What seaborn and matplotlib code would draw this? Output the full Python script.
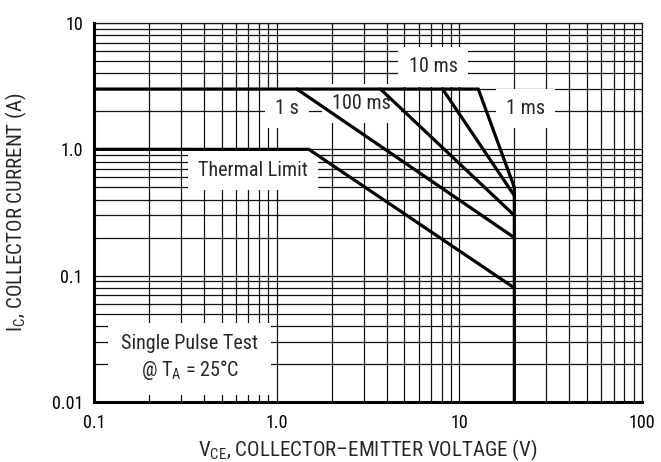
import numpy as np
import pandas as pd
import matplotlib
matplotlib.use("Agg")
import matplotlib.pyplot as plt
from matplotlib import font_manager as fm
from matplotlib.ticker import FixedLocator, NullFormatter, FixedFormatter, LogLocator
import seaborn as sns

# ---- data ----
v_1ms = [0.1, 12.7, 20.0, 20.0]
i_1ms = [3.0, 3.0, 0.50, 0.01]
v_10ms = [8.1, 20.0]
i_10ms = [3.0, 0.43]
v_100ms = [3.7, 20.0]
i_100ms = [3.0, 0.30]
v_1s = [1.29, 20.0]
i_1s = [3.0, 0.20]
v_thermal = [0.1, 1.5, 20.0]
i_thermal = [1.0, 1.0, 0.08]

x_ticks = [0.1, 1.0, 10, 100]
x_ticklabels = ["0.1", "1.0", "10", "100"]
y_ticks = [0.01, 0.1, 1.0, 10]
y_ticklabels = ["0.01", "0.1", "1.0", "10"]

labels = ["10 ms", "1 ms", "100 ms", "1 s", "Thermal Limit"]
label_v = [7.18, 23.1, 2.9, 1.135, 0.741]
label_i = [4.49, 2.12, 2.29, 2.12, 0.686]

frames = []
for name, v, i in [("1 ms", v_1ms, i_1ms), ("10 ms", v_10ms, i_10ms),
                   ("100 ms", v_100ms, i_100ms), ("1 s", v_1s, i_1s),
                   ("thermal", v_thermal, i_thermal)]:
    frames.append(pd.DataFrame({"V": v, "I": i, "curve": name}))
df = pd.concat(frames, ignore_index=True)

# ---- pick a condensed sans font if one is installed ----
COND = {"condensed", "semi-condensed", "extra-condensed", "ultra-condensed"}
def is_cond(f):
    st = f.stretch
    if isinstance(st, str):
        c = st in COND
    else:
        c = st < 500
    return c or "Narrow" in f.name or "Condensed" in f.name

cands = [f for f in fm.fontManager.ttflist
         if is_cond(f) and f.style == "normal" and f.weight in (400, "normal", "regular", "book")]
pref = ["Liberation Sans Narrow", "Roboto Condensed", "Noto Sans", "Open Sans", "DejaVu Sans", "Arimo"]
chosen = None
for p in pref:
    for f in cands:
        if f.name.startswith(p):
            chosen = f
            break
    if chosen:
        break
if chosen is None and cands:
    chosen = cands[0]

sns.set_style("white")
if chosen is not None:
    fam = chosen.name
    stretch = chosen.stretch if isinstance(chosen.stretch, str) else "condensed"
    plt.rcParams["font.family"] = [fam, "DejaVu Sans"]
    plt.rcParams["font.stretch"] = stretch
    plt.rcParams["mathtext.fontset"] = "custom"
    plt.rcParams["mathtext.rm"] = f"{fam}:stretch={stretch}"
    FS = 14.5
    FT = 13.0
    FL = 15.0
else:
    plt.rcParams["font.family"] = ["Liberation Sans", "DejaVu Sans"]
    plt.rcParams["mathtext.fontset"] = "custom"
    plt.rcParams["mathtext.rm"] = "Liberation Sans"
    FS = 12.5
    FT = 11.5
    FL = 12.5

fig = plt.figure(figsize=(6.61, 4.62), dpi=100)
ax = fig.add_axes([94 / 661, 1 - 402 / 462, 548 / 661, 379 / 462])
ax.set_xscale("log")
ax.set_yscale("log")
ax.set_xlim(0.1, 100)
ax.set_ylim(0.01, 10)

sns.lineplot(data=df, x="V", y="I", units="curve", estimator=None, sort=False,
             color="black", lw=2.3, ax=ax, zorder=5, legend=False)

ax.xaxis.set_major_locator(FixedLocator(x_ticks))
ax.xaxis.set_major_formatter(FixedFormatter(x_ticklabels))
ax.yaxis.set_major_locator(FixedLocator(y_ticks))
ax.yaxis.set_major_formatter(FixedFormatter(y_ticklabels))
ax.xaxis.set_minor_locator(LogLocator(base=10, subs=np.arange(2, 10), numticks=20))
ax.yaxis.set_minor_locator(LogLocator(base=10, subs=np.arange(2, 10), numticks=20))
ax.xaxis.set_minor_formatter(NullFormatter())
ax.yaxis.set_minor_formatter(NullFormatter())
ax.tick_params(which="both", length=0, labelsize=FT, colors="black")
ax.tick_params(axis="x", pad=9)
ax.tick_params(axis="y", pad=8)

ax.grid(True, which="both", color="#111111", lw=0.9)
ax.set_axisbelow(True)
for s in ["left", "bottom"]:
    ax.spines[s].set_linewidth(2.2)
    ax.spines[s].set_color("black")
for s in ["top", "right"]:
    ax.spines[s].set_linewidth(0.9)
    ax.spines[s].set_color("#111111")

ax.set_xlabel("V$_{\\mathregular{CE}}$, COLLECTOR\u2013EMITTER VOLTAGE (V)", fontsize=FL)
ax.set_ylabel("I$_{\\mathregular{C}}$, COLLECTOR CURRENT (A)", fontsize=FL)
ax.xaxis.set_label_coords(0.5, -0.094)
ax.yaxis.set_label_coords(-0.118, 0.5)

box = dict(boxstyle="square,pad=0.5", fc="white", ec="none")
for t, x, y in zip(labels, label_v, label_i):
    ax.text(x, y, t, ha="center", va="center", fontsize=FS, bbox=box, zorder=4)

ax.text(0.335, 0.0223, "Single Pulse Test\n@ T$_{\\mathregular{A}}$ = 25\u00b0C", ha="center",
        va="center", fontsize=FS, linespacing=1.25,
        bbox=dict(boxstyle="square,pad=0.65", fc="white", ec="none"), zorder=4)

fig.savefig("out.png", dpi=100)
